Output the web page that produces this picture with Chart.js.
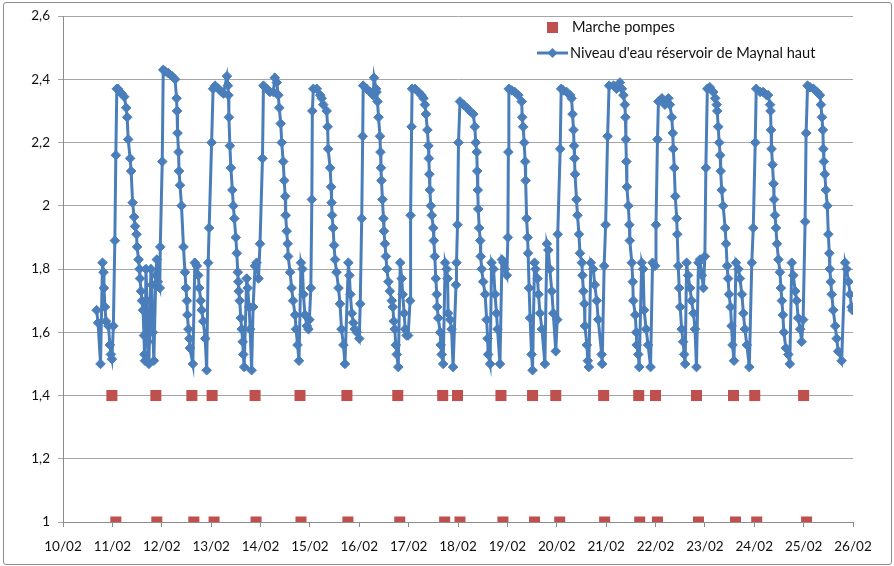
<!DOCTYPE html>
<html lang="fr">
<head>
  <meta charset="UTF-8">
  <title>Niveau d'eau réservoir de Maynal haut</title>
  <script src="https://cdn.jsdelivr.net/npm/chart.js"></script>
  <style>
    body { margin: 0; background: #fff; }
    .wrap { position: relative; width: 894px; height: 566px; overflow: hidden; }
    canvas { position: absolute; left: 0; top: 0; }
    .frame {
      position: absolute; left: 3px; top: 2px; width: 887px; height: 561px;
      border: 1px solid #8c8c8c; border-radius: 3px; pointer-events: none;
    }
  </style>
</head>
<body>
<div class="wrap">
  <canvas id="chart" width="894" height="566"></canvas>
  <div class="frame"></div>
</div>

<script>
  // series names (legend order)
  const seriesNames = ['Marche pompes', "Niveau d'eau réservoir de Maynal haut"];

  // x axis: days of February, 10/02 .. 26/02
  const dayLabels = ['10/02', '11/02', '12/02', '13/02', '14/02', '15/02', '16/02', '17/02', '18/02',
                     '19/02', '20/02', '21/02', '22/02', '23/02', '24/02', '25/02', '26/02'];
  const yLabels = ['1', '1,2', '1,4', '1,6', '1,8', '2', '2,2', '2,4', '2,6'];

  // pump markers (day of month, decimal) : start row at 1.4, stop row at 1
  const pumpStartLevel = 1.4;
  const pumpStopLevel = 1;
  const pumpStart = [10.99, 11.88, 12.61, 13.02, 13.89, 14.80, 15.75, 16.78, 17.69, 17.99,
                     18.87, 19.51, 19.98, 20.95, 21.66, 22.00, 22.83, 23.58, 24.01, 25.00];
  const pumpStop = [11.07, 11.90, 12.65, 13.06, 13.91, 14.82, 15.77, 16.82, 17.73, 18.04,
                    18.91, 19.55, 20.06, 20.97, 21.68, 22.04, 22.87, 23.62, 24.05, 25.06];

  // reservoir level: time (day of month, decimal) and level (m), one line per stretch
  const levelTime = [
    10.68, 10.71, 10.76, 10.80, 10.82, 10.83, 10.85, 10.87, 10.92, 10.95, 10.97, 10.99, 11.02, 11.05, 11.07,
    11.09, 11.11, 11.15, 11.19, 11.24, 11.28, 11.30, 11.32, 11.36, 11.38, 11.41, 11.44, 11.46, 11.49, 11.50, 11.53, 11.55, 11.56, 11.58, 11.60, 11.62, 11.64, 11.65, 11.66,
    11.68, 11.70, 11.72, 11.74, 11.76, 11.78, 11.80, 11.82, 11.84, 11.88, 11.90, 11.92, 11.96, 11.97, 12.01,
    12.03, 12.07, 12.13, 12.21, 12.27, 12.30, 12.31, 12.32, 12.34, 12.35, 12.37, 12.40, 12.44, 12.47, 12.49, 12.51, 12.52, 12.54, 12.56, 12.57, 12.63,
    12.67, 12.71, 12.74, 12.76, 12.79, 12.81, 12.84, 12.88, 12.91, 12.94, 12.96, 13.01,
    13.04, 13.08, 13.15, 13.21, 13.25, 13.32, 13.34, 13.35, 13.36, 13.38, 13.40, 13.43, 13.45, 13.47, 13.50, 13.52, 13.54, 13.55, 13.56, 13.58, 13.60, 13.62, 13.64, 13.65, 13.67,
    13.72, 13.74, 13.77, 13.79, 13.82, 13.85, 13.89, 13.92, 13.96, 13.99, 14.04,
    14.06, 14.13, 14.19, 14.26, 14.29, 14.33, 14.36, 14.38, 14.41, 14.43, 14.46, 14.48, 14.50, 14.51, 14.53, 14.55, 14.56, 14.60, 14.63, 14.66, 14.70, 14.72, 14.75, 14.78,
    14.82, 14.85, 14.87, 14.90, 14.94, 14.97, 14.99, 15.02, 15.04, 15.05,
    15.07, 15.14, 15.21, 15.24, 15.27, 15.34, 15.36, 15.37, 15.41, 15.43, 15.44, 15.45, 15.47, 15.49, 15.51, 15.54, 15.58, 15.61, 15.64, 15.68, 15.71,
    15.78, 15.80, 15.82, 15.85, 15.88, 15.91, 15.95, 16.00, 16.02, 16.05, 16.07,
    16.08, 16.15, 16.22, 16.28, 16.30, 16.34, 16.35, 16.37, 16.39, 16.42, 16.43, 16.44, 16.45, 16.47, 16.49, 16.50, 16.52, 16.54, 16.56, 16.59, 16.62, 16.66, 16.68, 16.70, 16.72, 16.74, 16.76, 16.79,
    16.83, 16.86, 16.88, 16.91, 16.93, 16.96, 16.99, 17.03, 17.04, 17.06,
    17.07, 17.13, 17.20, 17.26, 17.30, 17.33, 17.35, 17.38, 17.40, 17.41, 17.42, 17.43, 17.45, 17.47, 17.50, 17.51, 17.53, 17.55, 17.57, 17.58, 17.60, 17.64, 17.65, 17.67, 17.70,
    17.74, 17.77, 17.79, 17.80, 17.84, 17.87, 17.90, 17.96, 17.97, 17.99, 18.01,
    18.04, 18.11, 18.18, 18.24, 18.31, 18.34, 18.36, 18.38, 18.39, 18.40, 18.41, 18.43, 18.45, 18.46, 18.48, 18.51, 18.55, 18.58, 18.60, 18.61, 18.65,
    18.68, 18.72, 18.75, 18.78, 18.80, 18.85, 18.89, 18.92, 18.95, 18.99, 19.01, 19.02,
    19.03, 19.09, 19.15, 19.22, 19.29, 19.30, 19.32, 19.34, 19.36, 19.37, 19.39, 19.41, 19.42, 19.44, 19.46, 19.49, 19.51,
    19.55, 19.57, 19.61, 19.63, 19.66, 19.70, 19.76, 19.80, 19.83, 19.86, 19.90, 19.93, 19.98, 20.01, 20.02, 20.07,
    20.09, 20.13, 20.20, 20.27, 20.30, 20.32, 20.34, 20.35, 20.36, 20.37, 20.40, 20.42, 20.45, 20.47, 20.51, 20.52, 20.54, 20.56, 20.57, 20.61, 20.63, 20.65,
    20.69, 20.74, 20.77, 20.81, 20.84, 20.91, 20.92, 20.96, 20.99, 21.03,
    21.06, 21.15, 21.21, 21.28, 21.32, 21.35, 21.38, 21.39, 21.40, 21.41, 21.42, 21.45, 21.47, 21.48, 21.52, 21.54, 21.55, 21.59, 21.61, 21.62, 21.65, 21.67,
    21.72, 21.75, 21.77, 21.81, 21.85, 21.90, 21.94, 21.99, 22.01, 22.04,
    22.06, 22.13, 22.19, 22.26, 22.29, 22.33, 22.35, 22.36, 22.38, 22.40, 22.43, 22.44, 22.46, 22.48, 22.50, 22.53, 22.56, 22.58, 22.60,
    22.63, 22.66, 22.70, 22.73, 22.77, 22.80, 22.83, 22.87, 22.90, 22.94, 22.97, 23.00, 23.02,
    23.05, 23.10, 23.17, 23.21, 23.24, 23.25, 23.27, 23.29, 23.31, 23.32, 23.34, 23.37, 23.41, 23.43, 23.45, 23.47, 23.49, 23.52, 23.54, 23.56, 23.59,
    23.63, 23.68, 23.71, 23.75, 23.78, 23.81, 23.85, 23.90, 23.95, 23.98, 24.02,
    24.04, 24.12, 24.18, 24.25, 24.28, 24.32, 24.33, 24.34, 24.35, 24.37, 24.39, 24.40, 24.42, 24.44, 24.46, 24.49, 24.52, 24.54, 24.56, 24.58, 24.60, 24.64, 24.69, 24.72,
    24.76, 24.79, 24.83, 24.86, 24.89, 24.93, 24.96, 24.99, 25.03, 25.05,
    25.08, 25.13, 25.20, 25.27, 25.33, 25.35, 25.37, 25.39, 25.40, 25.41, 25.43, 25.45, 25.48, 25.50, 25.52, 25.53, 25.55, 25.57, 25.60, 25.64, 25.67, 25.70, 25.77,
    25.84, 25.87, 25.91, 25.94, 25.97, 25.99
  ];
  const levelValue = [
    1.67, 1.63, 1.50, 1.82, 1.79, 1.74, 1.68, 1.635, 1.62, 1.56, 1.53, 1.515, 1.62, 1.89, 2.16,
    2.37, 2.37, 2.36, 2.355, 2.345, 2.31, 2.28, 2.21, 2.15, 2.11, 2.01, 1.965, 1.935, 1.91, 1.87, 1.83, 1.80, 1.77, 1.73, 1.70, 1.67, 1.59, 1.53, 1.51,
    1.80, 1.70, 1.57, 1.50, 1.64, 1.80, 1.75, 1.60, 1.51, 1.78, 1.83, 1.76, 1.74, 1.87, 2.14,
    2.43, 2.425, 2.42, 2.41, 2.40, 2.34, 2.30, 2.23, 2.17, 2.11, 2.065, 2.00, 1.87, 1.79, 1.74, 1.70, 1.655, 1.61, 1.58, 1.55, 1.50,
    1.82, 1.81, 1.78, 1.74, 1.70, 1.67, 1.635, 1.58, 1.48, 1.82, 1.93, 2.20,
    2.37, 2.38, 2.37, 2.36, 2.355, 2.41, 2.38, 2.35, 2.28, 2.19, 2.12, 2.05, 2.00, 1.96, 1.90, 1.85, 1.79, 1.76, 1.73, 1.70, 1.645, 1.61, 1.57, 1.53, 1.49,
    1.77, 1.74, 1.68, 1.61, 1.48, 1.68, 1.81, 1.82, 1.77, 1.88, 2.15,
    2.38, 2.37, 2.36, 2.36, 2.405, 2.39, 2.35, 2.31, 2.26, 2.20, 2.14, 2.08, 2.03, 1.97, 1.92, 1.88, 1.84, 1.79, 1.74, 1.70, 1.655, 1.61, 1.56, 1.51,
    1.82, 1.80, 1.72, 1.655, 1.62, 1.61, 1.64, 1.74, 2.02, 2.30,
    2.37, 2.37, 2.35, 2.34, 2.32, 2.30, 2.25, 2.18, 2.12, 2.06, 2.01, 1.97, 1.93, 1.875, 1.83, 1.79, 1.74, 1.69, 1.61, 1.56, 1.50,
    1.82, 1.78, 1.72, 1.66, 1.63, 1.61, 1.60, 1.58, 1.69, 1.96, 2.22,
    2.38, 2.37, 2.36, 2.35, 2.405, 2.37, 2.36, 2.33, 2.28, 2.22, 2.17, 2.12, 2.08, 2.02, 1.96, 1.92, 1.88, 1.84, 1.80, 1.76, 1.73, 1.70, 1.68, 1.635, 1.61, 1.56, 1.53, 1.49,
    1.82, 1.77, 1.72, 1.66, 1.61, 1.59, 1.59, 1.70, 1.97, 2.25,
    2.37, 2.37, 2.36, 2.35, 2.34, 2.32, 2.29, 2.24, 2.19, 2.15, 2.10, 2.05, 2.00, 1.97, 1.93, 1.89, 1.84, 1.77, 1.72, 1.68, 1.645, 1.60, 1.56, 1.53, 1.50,
    1.82, 1.80, 1.77, 1.66, 1.64, 1.61, 1.49, 1.75, 1.82, 1.94, 2.20,
    2.33, 2.32, 2.31, 2.30, 2.29, 2.25, 2.20, 2.17, 2.11, 2.05, 1.99, 1.93, 1.89, 1.84, 1.80, 1.76, 1.72, 1.64, 1.58, 1.53, 1.50,
    1.82, 1.80, 1.72, 1.66, 1.61, 1.50, 1.83, 1.82, 1.80, 1.78, 1.90, 2.17,
    2.37, 2.365, 2.36, 2.35, 2.33, 2.28, 2.25, 2.20, 2.14, 2.08, 1.96, 1.90, 1.85, 1.74, 1.645, 1.53, 1.48,
    1.82, 1.80, 1.77, 1.72, 1.66, 1.61, 1.50, 1.88, 1.86, 1.80, 1.73, 1.66, 1.54, 1.64, 1.91, 2.18,
    2.37, 2.365, 2.36, 2.35, 2.34, 2.29, 2.24, 2.19, 2.15, 2.10, 2.02, 1.97, 1.91, 1.85, 1.82, 1.78, 1.73, 1.69, 1.62, 1.56, 1.51, 1.49,
    1.82, 1.80, 1.75, 1.70, 1.64, 1.53, 1.50, 1.81, 1.94, 2.22,
    2.38, 2.38, 2.37, 2.39, 2.37, 2.35, 2.32, 2.28, 2.21, 2.14, 2.06, 2.00, 1.94, 1.89, 1.82, 1.76, 1.70, 1.655, 1.60, 1.56, 1.53, 1.49,
    1.82, 1.80, 1.67, 1.61, 1.56, 1.49, 1.82, 1.81, 1.94, 2.21,
    2.33, 2.34, 2.32, 2.34, 2.32, 2.28, 2.23, 2.18, 2.12, 2.03, 1.96, 1.91, 1.81, 1.74, 1.68, 1.61, 1.57, 1.53, 1.50,
    1.82, 1.78, 1.74, 1.70, 1.66, 1.61, 1.49, 1.82, 1.83, 1.78, 1.74, 1.84, 2.12,
    2.37, 2.375, 2.36, 2.34, 2.32, 2.30, 2.25, 2.20, 2.16, 2.11, 2.05, 2.00, 1.93, 1.88, 1.81, 1.77, 1.72, 1.68, 1.62, 1.56, 1.51,
    1.82, 1.80, 1.77, 1.72, 1.66, 1.61, 1.56, 1.49, 1.82, 1.93, 2.20,
    2.37, 2.36, 2.36, 2.35, 2.35, 2.32, 2.30, 2.24, 2.18, 2.13, 2.07, 2.02, 1.97, 1.93, 1.88, 1.83, 1.79, 1.74, 1.70, 1.655, 1.60, 1.55, 1.53, 1.50,
    1.82, 1.78, 1.73, 1.70, 1.645, 1.61, 1.57, 1.64, 1.95, 2.23,
    2.38, 2.375, 2.37, 2.36, 2.35, 2.32, 2.28, 2.24, 2.18, 2.14, 2.10, 2.05, 2.00, 1.91, 1.85, 1.80, 1.76, 1.72, 1.67, 1.62, 1.58, 1.54, 1.51,
    1.82, 1.80, 1.76, 1.72, 1.68, 1.67
  ];

  const pumpColor = '#C0504D';
  const levelColor = '#4A7EBB';
  const axisFont = { family: 'Lato', size: 13.5 };

  if (levelTime.length !== levelValue.length) {
    console.warn('level arrays differ', levelTime.length, levelValue.length);
  }

  const pumpPoints = pumpStart.map(t => ({ x: t, y: pumpStartLevel }))
    .concat(pumpStop.map(t => ({ x: t, y: pumpStopLevel })));
  const levelPoints = levelTime.map((t, i) => ({ x: t, y: levelValue[i] }));

  // legend drawn inside the plot, top right, like the original sheet
  const insideLegend = {
    id: 'insideLegend',
    afterDraw(chart) {
      const ctx = chart.ctx;
      ctx.save();
      ctx.font = '14.6px Lato';
      ctx.textBaseline = 'middle';

      ctx.fillStyle = pumpColor;
      ctx.fillRect(547, 22, 11, 11);
      ctx.fillStyle = '#111';
      ctx.fillText(seriesNames[0], 572, 27);

      ctx.strokeStyle = levelColor;
      ctx.lineWidth = 3;
      ctx.beginPath();
      ctx.moveTo(537, 53);
      ctx.lineTo(568, 53);
      ctx.stroke();
      ctx.fillStyle = levelColor;
      ctx.beginPath();
      ctx.moveTo(552.5, 48);
      ctx.lineTo(557.5, 53);
      ctx.lineTo(552.5, 58);
      ctx.lineTo(547.5, 53);
      ctx.closePath();
      ctx.fill();
      ctx.fillStyle = '#111';
      ctx.fillText(seriesNames[1], 570, 53);
      ctx.restore();
    }
  };

  new Chart(document.getElementById('chart'), {
    type: 'scatter',
    data: {
      datasets: [
        {
          label: seriesNames[0],
          data: pumpPoints,
          showLine: false,
          pointStyle: 'rect',
          pointRadius: 7.8,
          pointBorderWidth: 0,
          backgroundColor: pumpColor,
          borderColor: pumpColor
        },
        {
          label: seriesNames[1],
          data: levelPoints,
          showLine: true,
          borderColor: levelColor,
          backgroundColor: levelColor,
          borderWidth: 3,
          pointStyle: 'rectRot',
          pointRadius: 4.8,
          pointBorderWidth: 1,
          tension: 0
        }
      ]
    },
    options: {
      responsive: false,
      animation: false,
      layout: { padding: { top: 13, right: 41, left: 0, bottom: 0 } },
      plugins: {
        legend: { display: false },
        tooltip: { enabled: false }
      },
      scales: {
        x: {
          type: 'linear',
          min: 10,
          max: 26,
          afterFit: s => { s.height = 44; },
          ticks: {
            stepSize: 1,
            autoSkip: false,
            maxRotation: 0,
            padding: 12,
            color: '#111',
            font: axisFont,
            callback: v => dayLabels[Math.round(v) - 10]
          },
          grid: { drawOnChartArea: false, tickLength: 5, color: '#8c8c8c' },
          border: { color: '#8c8c8c' }
        },
        y: {
          min: 1,
          max: 2.6,
          afterFit: s => { s.width = 63; },
          ticks: {
            stepSize: 0.2,
            padding: 8,
            color: '#111',
            font: axisFont,
            callback: v => yLabels[Math.round((v - 1) / 0.2)]
          },
          grid: { color: '#a6a6a6', tickLength: 5 },
          border: { color: '#8c8c8c' }
        }
      }
    },
    plugins: [insideLegend]
  });
</script>
</body>
</html>
